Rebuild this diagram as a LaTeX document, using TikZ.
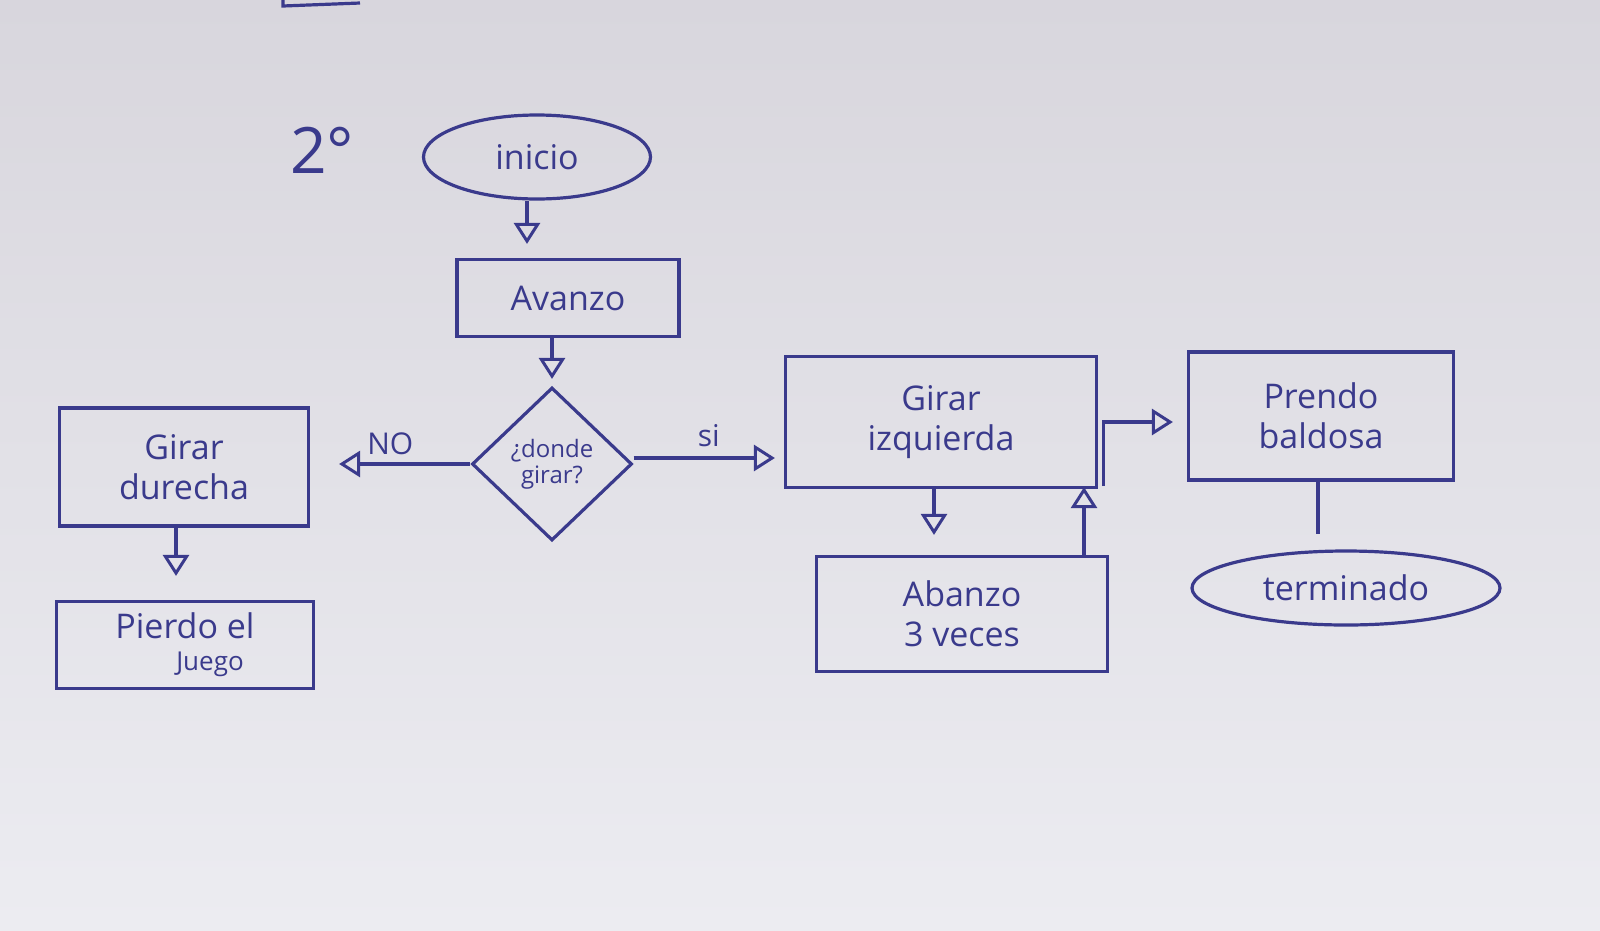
\documentclass[tikz,border=0pt]{standalone}
\usepackage{fontspec}
\setmainfont{Open Sans}
\usetikzlibrary{shapes.geometric,arrows.meta}
\definecolor{pen}{HTML}{3A3A8C}
\definecolor{papertop}{HTML}{D8D6DD}
\definecolor{paperbot}{HTML}{ECECF1}
\tikzset{
  every node/.style={text=pen, font=\fontsize{34}{40}\selectfont, align=center, inner sep=0pt},
  procbox/.style={draw=pen, line width=3.2pt, rectangle},
  termnode/.style={draw=pen, line width=3.2pt, ellipse},
  decnode/.style={draw=pen, line width=3.2pt, diamond, font=\fontsize{24}{26}\selectfont},
  arr/.style={draw=pen, line width=3.2pt, -{Triangle[open, length=21pt, width=26pt, line width=3pt]}},
  plain/.style={draw=pen, line width=3.2pt},
  lbl/.style={font=\fontsize{30}{34}\selectfont}
}
\begin{document}
\begin{tikzpicture}[x=1pt,y=-1pt]
\shade[top color=papertop, bottom color=paperbot] (0,0) rectangle (1600,930);
\useasboundingbox (0,0) rectangle (1600,930);

% cut-off fragment at top
\draw[plain] (283,0) -- (283,6) -- (360,3);

\node[font=\fontsize{64}{70}\selectfont] (num) at (322,150) {2°};

\node[termnode, minimum width=227, minimum height=84] (inicio) at (537,157) {inicio};
\node[procbox, minimum width=222, minimum height=77] (avanzo) at (568,298) {Avanzo};
\node[decnode, minimum width=160, minimum height=153] (dec) at (552,464) {¿donde\\girar?};
\node[procbox, minimum width=249, minimum height=118] (der) at (184,467) {Girar\\durecha};
\node[procbox, minimum width=257, minimum height=87] (pierdo) at (185,645) {Pierdo el\\[-8pt]{\fontsize{26}{28}\selectfont\hspace*{50pt}Juego}};
\node[procbox, minimum width=311, minimum height=131] (izq) at (941,422) {Girar\\izquierda};
\node[procbox, minimum width=291, minimum height=115] (abanzo) at (962,614) {Abanzo\\3 veces};
\node[procbox, minimum width=265, minimum height=128] (prendo) at (1321,416) {Prendo\\baldosa};
\node[termnode, minimum width=308, minimum height=74] (term) at (1346,588) {terminado};

\coordinate (decE) at ([yshift=6pt]dec.east);
\coordinate (izqR) at ([xshift=5pt,yshift=-64pt]izq.east);

\draw[arr, shorten >=14pt] ([xshift=-10pt]inicio.south) -- ([xshift=-10pt]inicio.south |- avanzo.north);
\draw[arr, shorten >=7pt] (dec.north |- avanzo.south) -- (dec.north);
\draw[arr, shorten >=29pt] (dec.west) -- node[lbl, above=8pt] (no) {NO} (der.east |- dec.west);
\draw[arr, shorten >=9pt] (decE) -- node[lbl, above=10pt] (si) {si} (izq.west |- decE);
\draw[arr, shorten >=24pt] ([xshift=-8pt]der.south) -- ([xshift=-8pt]der.south |- pierdo.north);
\draw[arr, shorten >=20pt] ([xshift=-7pt]izq.south) -- ([xshift=-7pt]izq.south |- abanzo.north);
\draw[arr, shorten >=-2pt] ([xshift=122pt]abanzo.north) -- ([xshift=122pt]abanzo.north |- izq.south);
\draw[arr, shorten >=14pt] (izqR) |- ([yshift=-6pt]prendo.west);
\draw[plain, shorten >=15pt] ([xshift=-3pt]prendo.south) -- ([xshift=-3pt]prendo.south |- term.north);
\end{tikzpicture}
\end{document}
